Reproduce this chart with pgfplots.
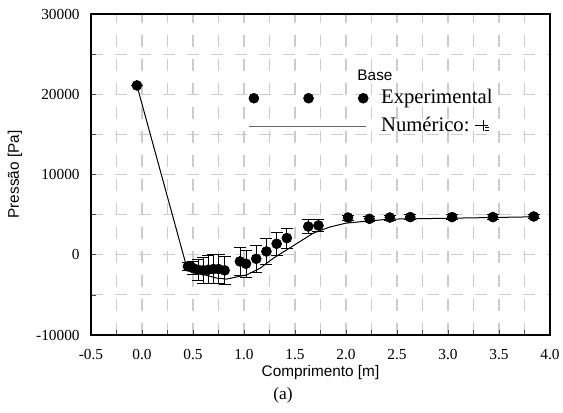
\documentclass[border=0pt]{standalone}
\usepackage{pgfplots}
\pgfplotsset{compat=1.18}
\usepackage{fontspec}
\setmainfont{Liberation Serif}
\setsansfont{Liberation Sans}
\begin{document}
\begin{tikzpicture}
\begin{axis}[
  at={(0,0)}, anchor=south west,
  scale only axis, width=344.25pt, height=240.75pt,
  xmin=-0.5, xmax=4.0, ymin=-10000, ymax=30000,
  xtick={-0.5,0,...,4.0}, ytick={-10000,0,...,30000},
  minor x tick num=1, minor y tick num=1,
  xticklabel style={/pgf/number format/fixed, /pgf/number format/fixed zerofill, /pgf/number format/precision=1, yshift=-7.5pt},
  yticklabel style={/pgf/number format/fixed, /pgf/number format/1000 sep={}, xshift=-5pt},
  scaled ticks=false,
  /pgf/number format/assume math mode=true,
  tick label style={font=\fontsize{11.5}{13}\selectfont},
  xtick pos=bottom, ytick pos=left,
  tick align=inside,
  major tick length=4pt, minor tick length=4pt,
  every tick/.style={black!70},
  grid=both,
  major grid style={gray!40, line width=0.8pt, dash pattern=on 9pt off 9pt},
  minor grid style={gray!40, line width=0.8pt, dash pattern=on 9pt off 9pt},
  axis line style={black, line width=0.8pt},
  xlabel={Comprimento [m]}, ylabel={Pressão [Pa]},
  label style={font=\sffamily\fontsize{11.5}{13}\selectfont},
  xlabel style={at={(axis description cs:0.5,-0.118)}, anchor=center},
  ylabel style={at={(axis description cs:-0.166,0.5)}, anchor=center},
  legend style={at={(axis cs:1.04,20700)}, anchor=north west, draw=none, fill=none,
    inner sep=0pt, row sep=7pt, column sep=9.5pt,
    font=\fontsize{15.5}{17}\selectfont,
    nodes={inner sep=0pt, text height=11pt, text depth=3pt}},
  legend cell align=left,
]
\addplot[only marks, mark=*, mark size=3.75pt, black, forget plot,
  error bars/.cd, y dir=both, y explicit,
  error bar style={black, line width=0.6pt},
  error mark options={rotate=90, mark size=4.5pt, black, line width=0.6pt}]
  coordinates {
  (-0.05,21100) +- (0,0)
  (0.45,-1450) +- (0,500)
  (0.50,-1660) +- (0,830)
  (0.55,-1870) +- (0,1330)
  (0.60,-1950) +- (0,1660)
  (0.65,-1870) +- (0,1750)
  (0.70,-1780) +- (0,1780)
  (0.75,-1780) +- (0,1780)
  (0.81,-1950) +- (0,1740)
  (0.96,-830) +- (0,1750)
  (1.02,-1120) +- (0,1660)
  (1.12,-500) +- (0,1720)
  (1.22,410) +- (0,1660)
  (1.32,1370) +- (0,1450)
  (1.42,2080) +- (0,1240)
  (1.63,3520) +- (0,840)
  (1.73,3650) +- (0,800)
  (2.02,4640) +- (0,300)
  (2.23,4480) +- (0,300)
  (2.43,4640) +- (0,300)
  (2.63,4690) +- (0,300)
  (3.04,4690) +- (0,300)
  (3.44,4690) +- (0,300)
  (3.84,4770) +- (0,300)
  };
\addplot[black, line width=0.75pt, forget plot] coordinates {
  (-0.05,21100) (0.44,-1620) (0.47,-1950) (0.60,-2450) (0.73,-2900) (0.83,-3030)
  (1.03,-2490) (1.16,-1660) (1.29,-410) (1.42,620) (1.55,1660) (1.68,2700)
  (1.84,3450) (2.0,3940) (2.24,4230) (2.43,4440) (2.66,4480) (3.05,4560)
  (3.44,4640) (3.84,4730)
  };
\addlegendimage{legend image code/.code={
  \fill[black] (0pt,0pt) circle (3.75pt);
  \fill[black] (41pt,0pt) circle (3.75pt);
  \fill[black] (82pt,0pt) circle (3.75pt);}}
\addlegendentry{Experimental}
\addlegendimage{legend image code/.code={
  \draw[black!60, line width=0.8pt] (-3.75pt,0pt) -- (84pt,0pt);}}
\addlegendentry{Numérico:~\rule[4.5pt]{10pt}{0.6pt}\kern-4pt\rule[0.5pt]{0.6pt}{8pt}\kern1.5pt\rule[3pt]{2.5pt}{0.6pt}\kern-2.5pt\rule[0.5pt]{2.5pt}{0.6pt}}
\node[font=\sffamily\fontsize{11.5}{13}\selectfont] at (axis cs:2.284,22410) {Base};
\end{axis}
\node[font=\fontsize{13}{15}\selectfont] at (144pt,-45pt) {(a)};
\pgfresetboundingbox
\path[use as bounding box] (-68.25pt,-57.75pt) rectangle (354pt,251.25pt);
\end{tikzpicture}
\end{document}
